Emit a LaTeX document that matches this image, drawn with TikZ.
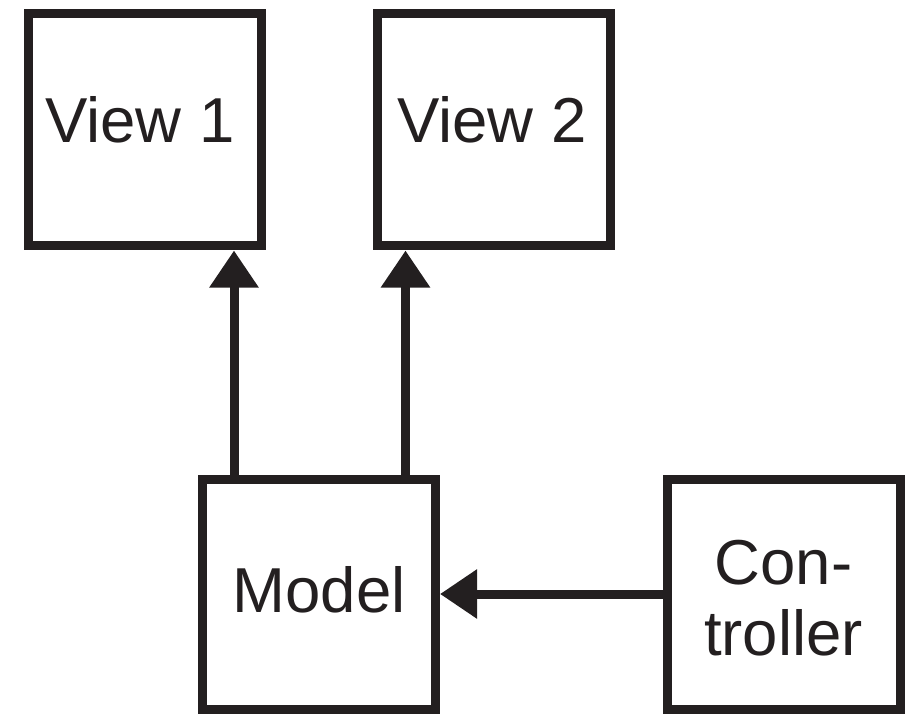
\documentclass[tikz,border=0pt]{standalone}
\usepackage{fontspec}
\setmainfont{Liberation Sans}
\usetikzlibrary{arrows.meta}
\definecolor{ink}{HTML}{231F20}
\tikzset{
  box/.style={draw=ink, line width=9pt, rectangle, minimum width=233pt, minimum height=232pt, inner sep=0pt},
  txt/.style={text=ink, inner sep=0pt, anchor=base, font=\fontsize{63.5}{75}\selectfont},
  arr/.style={draw=ink, line width=9pt, -{Triangle[length=37pt,width=47pt]}}
}
\begin{document}
\begin{tikzpicture}[x=1pt,y=-1pt]
\useasboundingbox (0,0) rectangle (913,714);
\node[box] (v1) at (145,130) {};
\node[box] (v2) at (493.8,130) {};
\node[box, minimum height=230pt] (m) at (319,594) {};
\node[box, minimum height=230pt] (c) at (784,594) {};
\node[txt] (t1) at (140,143) {View 1};
\node[txt] (t2) at (492,143) {View 2};
\node[txt] (tm) at (319,612) {Model};
\node[txt] (tc1) at (783.5,584) {Con-};
\node[txt] (tc2) at (783.5,655) {troller};
\draw[arr] ([xshift=36pt]m.north west) -- ([xshift=36pt]m.north west |- v1.south);
\draw[arr] ([xshift=-34.5pt]m.north east) -- ([xshift=-34.5pt]m.north east |- v2.south);
\draw[arr] (c) -- (m);
\end{tikzpicture}
\end{document}
